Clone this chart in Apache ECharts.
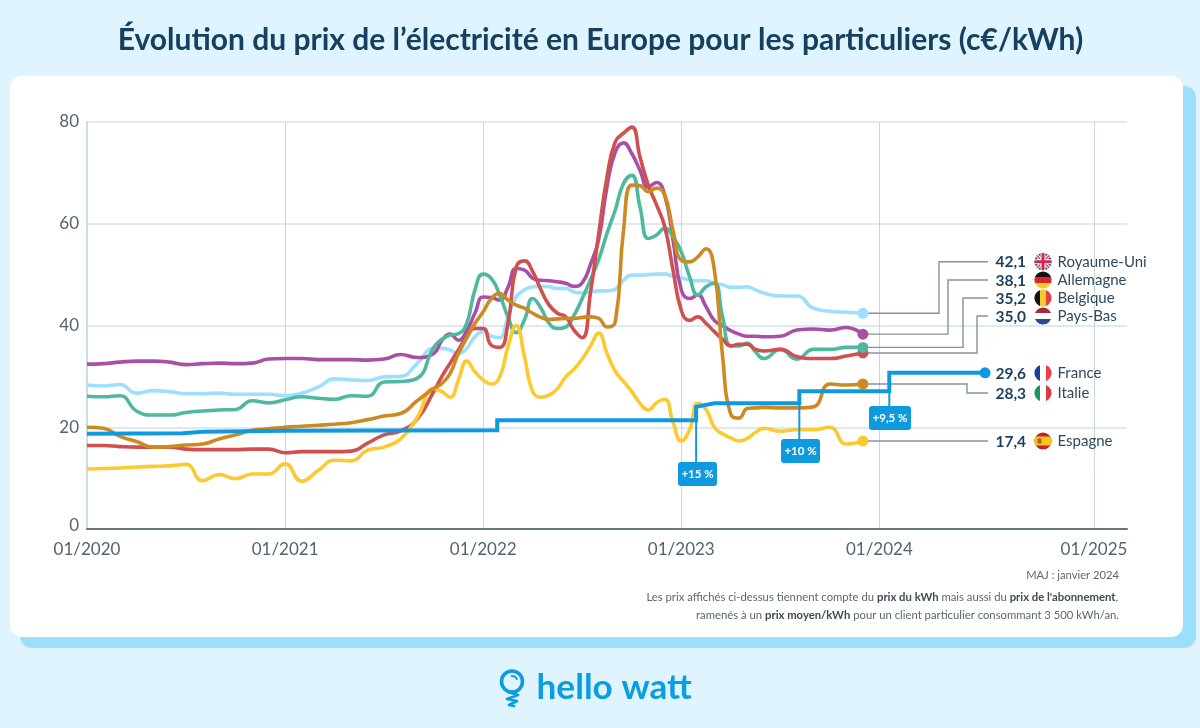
<!DOCTYPE html>
<html><head><meta charset="utf-8">
<style>html,body{margin:0;padding:0;background:#dff4ff}#c{width:1200px;height:728px}</style>
<script src="https://cdn.jsdelivr.net/npm/echarts@6/dist/echarts.min.js"></script>
</head><body><div id="c"></div>
<script>
const months=[0,1,2,3,4,5,6,7,8,9,10,11,12,13,14,15,16,17,18,19,20,
21,21.5,22,22.5,23,23.5,24,24.5,25,25.5,26,26.5,27,27.5,28,28.5,29,29.5,30,30.5,31,31.5,32,32.5,33,33.5,34,34.5,35,35.5,36,36.5,37,37.5,38,38.5,39,39.5,40,40.5,41,
42,43,44,45,46,47];
const royaumeUni=[28.3,28.1,28.4,26.7,27.2,27,26.6,26.6,26.7,26.5,26.5,26.5,26.2,26.7,27.9,29.5,29.3,29.2,29.9,30,32.5,
35.5,35.5,35.2,34.5,35.5,37.8,38.8,37.9,37.6,41.7,45.6,47,47.6,47.7,47.6,47.3,47.3,46.6,46.4,46.6,46.8,46.8,47.1,48.9,49.9,49.9,50,50.1,50.1,49.7,49.4,49,48.8,48.8,48.3,48,47.5,47.5,47.6,47,46.4,
45.8,45.8,43.4,42.8,42.6,42.4];
const allemagne=[32.4,32.5,32.8,33,33,32.8,32.3,32.5,32.6,32.5,32.6,33.4,33.5,33.5,33.3,33.3,33.3,33.2,33.4,34.3,33.7,
34.5,37.1,38.3,37.1,39,42.4,45.6,45.5,45,47.5,51.2,50.9,49.3,48.9,48.8,48.6,48.3,47.7,48.4,52,57,67.3,74.1,75.9,73.8,70.5,67.2,68.1,65.6,56.8,47,45.3,46,43.7,41,40,39,38.3,37.9,37.9,37.8,
37.9,39.1,39.3,39.1,39.6,38.3];
const belgique=[26.1,26,26.2,23.2,22.4,22.4,22.9,23.2,23.4,23.5,25.2,24.8,25.4,26,25.7,25.5,26.2,26.1,28.9,29,29.6,
35.7,37.3,38.1,38.4,40.4,47,50.1,49.2,46,41.7,38.6,41.1,45.3,43.4,40.4,39.4,39.7,42,45.3,49,53,58.1,62.7,67.9,69.5,63.3,57.1,57.8,59.1,57.4,54.5,49.6,46,47.6,48.3,41.7,36,36,36.5,34.8,33.5,
35.3,33.4,35.3,35.3,35.7,35.7];
const paysBas=[16.4,16.4,16.2,16.1,16.1,16.1,15.7,15.6,15.6,15.6,15.7,15.7,15,15.2,15.2,15.2,15.3,16.9,18.5,19.3,21.6,
27,30,32.6,35.2,37.8,39.4,39.4,36.1,35.7,40.4,51.5,52.7,50.6,47,44,42.4,41.7,39.1,37.6,46.5,58.1,69.2,76.1,77.8,79,73.1,67.6,63.7,59.4,50.9,43,41,41.7,40.4,38.8,37.3,36,36.3,36.3,35.3,35,
35.3,33.9,33.5,33.5,34,34.6];
const italie=[20,19.8,18.2,17.2,16.1,16.2,16.5,16.7,17.7,18.5,19.4,19.7,20,20.2,20.4,20.6,20.9,21.5,22.2,22.7,25.2,
27.6,28.6,30.6,34.5,37.5,40.4,42.7,45.3,46.3,45,44,43.4,42.4,41.6,41.2,41.3,41.4,41.4,41.6,41.7,41.4,39.7,40.7,58.7,67.6,67.5,66.3,67,65.6,58.7,52.8,52.5,53.5,55.1,51,34,22.5,21.8,23.7,23.8,23.9,
23.8,23.8,24,28.5,28.3,28.5];
const espagne=[11.8,11.9,12,12.2,12.3,12.4,12.7,9.5,10.7,9.9,10.8,10.8,12.8,9.4,11.5,13.5,13.4,15.5,16.1,17.7,21.9,
27.6,27,25.9,29.3,33,30.9,29.3,28.5,29.9,35.8,40,33.9,27,25.9,26.3,27.6,29.9,31.4,33.4,36,38.5,34.5,31,29,27,24.7,23.4,24.8,25.5,21,17.3,19.5,24.7,23.5,20,18.7,17.9,17.3,17.8,19,19.8,
19.2,19.5,19.5,20,16.7,17.3];
const franceMonths=[0,5.8,7,12,24.85,24.85,36.9,36.9,38,43.15,43.15,48.6,48.6,54.4];
const franceValues=[18.7,18.8,19.1,19.3,19.4,21.4,21.4,24,24.7,24.7,27.1,27.1,30.7,30.7];
const tickMonths=[0,12,24,36,48,61];
const tickLabels=['01/2020','01/2021','01/2022','01/2023','01/2024','01/2025'];
const countries=['Royaume-Uni','Allemagne','Belgique','Pays-Bas','France','Italie','Espagne'];
const shownValues=['42,1','38,1','35,2','35,0','29,6','28,3','17,4'];

const F='Lato';
const colors={uk:'#9ddffc',de:'#a950a5',be:'#4fb9a0',nl:'#d04f4f',fr:'#0f9ae0',it:'#cd8a22',es:'#fcc92f'};
const lines=[[royaumeUni,colors.uk],[allemagne,colors.de],[belgique,colors.be],[paysBas,colors.nl],[espagne,colors.es],[italie,colors.it]];
const series=lines.map(([v,c],i)=>({type:'line',data:v.map((y,k)=>[months[k],y]),smooth:0.5,symbol:'none',z:3+i,
  lineStyle:{color:c,width:3.6},itemStyle:{color:c}}));
series.push({type:'line',data:franceValues.map((y,k)=>[franceMonths[k],y]),symbol:'none',z:12,
  lineStyle:{color:colors.fr,width:4,join:'miter'},itemStyle:{color:colors.fr}});
[3,0,1,2,4,5].forEach(i=>{const [v,c]=lines[i];series.push({type:'scatter',data:[[months[months.length-1],v[v.length-1]]],symbolSize:11,z:i===3?10:11,itemStyle:{color:c,opacity:1}});});
series.push({type:'scatter',data:[[franceMonths[franceMonths.length-1],franceValues[franceValues.length-1]]],symbolSize:11,z:13,itemStyle:{color:colors.fr,opacity:1}});

const chart=echarts.init(document.getElementById('c'),null,{renderer:'canvas'});
chart.setOption({
  animation:false,backgroundColor:'#dff4ff',textStyle:{fontFamily:F},
  grid:{left:87,right:73,top:122,bottom:199,containLabel:false},
  xAxis:{type:'value',min:0,max:63,
    axisLine:{show:true,onZero:false,lineStyle:{color:'#64767f',width:2}},
    axisTick:{show:false,customValues:tickMonths},
    axisLabel:{customValues:tickMonths,fontFamily:F,fontSize:17,color:'#55636d',margin:12,hideOverlap:false,showMinLabel:true,showMaxLabel:true,
      formatter:v=>tickLabels[tickMonths.indexOf(v)]||''},
    splitLine:{show:true,lineStyle:{color:'#c9d6e2',width:1}}},
  yAxis:{type:'value',min:0,max:80,interval:20,
    axisLine:{show:true,lineStyle:{color:'#c8dcea',width:2}},axisTick:{show:false},
    axisLabel:{fontFamily:F,fontSize:17,color:'#55636d',margin:8,
      formatter:v=>v===0?'{z|0}':String(v),rich:{z:{fontFamily:F,fontSize:17,color:'#55636d',padding:[0,0,7,0]}}},
    splitLine:{show:true,lineStyle:{color:'#e0e8f0',width:2}}},
  series
});

const px=(m,v)=>chart.convertToPixel({xAxisIndex:0,yAxisIndex:0},[m,v]);
const lastM=months[months.length-1];
const g=[];
g.push({type:'rect',z:-20,shape:{x:20,y:86,width:1176,height:562,r:12},style:{fill:'#9cdffc'}});
g.push({type:'rect',z:-19,shape:{x:10,y:76,width:1173,height:561,r:12},style:{fill:'#ffffff'}});
g.push({type:'text',z:20,style:{x:600.5,y:40.5,text:'Évolution du prix de l’électricité en Europe pour les particuliers (c€/kWh)',
  font:'bold 30px Lato',fill:'#15405f',align:'center',verticalAlign:'middle'}});
const rowY=[261.7,280,298,316,373,393,441];
const elbows={0:939,1:948,2:963,3:977,5:967};
const ends=[[royaumeUni,0],[allemagne,1],[belgique,2],[paysBas,3],[italie,5],[espagne,6]];
ends.forEach(([v,row])=>{
  const p=px(lastM,v[v.length-1]);
  const e=elbows[row];
  const pts=e?[p,[e,p[1]],[e,rowY[row]],[988,rowY[row]]]:[p,[988,p[1]]];
  g.push({type:'polyline',z:1,shape:{points:pts},style:{stroke:'#84929c',lineWidth:1.4,fill:null}});
});
const notes=[{m:36.9,v:21.4,t:'+15 %',x:678,y:462,w:39},{m:43.15,v:24.7,t:'+10 %',x:781,y:439,w:39},{m:48.6,v:27.1,t:'+9,5 %',x:869,y:406,w:42}];
notes.forEach(n=>{
  const p=px(n.m,n.v);
  g.push({type:'line',z:9,shape:{x1:p[0],y1:p[1],x2:p[0],y2:n.y},style:{stroke:colors.fr,lineWidth:2}});
  g.push({type:'rect',z:14,shape:{x:n.x,y:n.y,width:n.w,height:24,r:3},style:{fill:colors.fr}});
  g.push({type:'text',z:15,style:{x:n.x+n.w/2,y:n.y+12.5,text:n.t,font:'bold 11.5px Lato',fill:'#ffffff',align:'center',verticalAlign:'middle'}});
});
const stripesH=(a,b,c)=>`<rect width="18" height="6" fill="${a}"/><rect y="6" width="18" height="6" fill="${b}"/><rect y="12" width="18" height="6" fill="${c}"/>`;
const stripesV=(a,b,c)=>`<rect width="6" height="18" fill="${a}"/><rect x="6" width="6" height="18" fill="${b}"/><rect x="12" width="6" height="18" fill="${c}"/>`;
const flagArt=[
 `<rect width="18" height="18" fill="#2b4a9b"/><path d="M0 0L18 18M18 0L0 18" stroke="#fff" stroke-width="3.4"/><path d="M0 0L18 18M18 0L0 18" stroke="#d5254a" stroke-width="1.2"/><path d="M9 0V18M0 9H18" stroke="#fff" stroke-width="5"/><path d="M9 0V18M0 9H18" stroke="#d5254a" stroke-width="3"/>`,
 stripesH('#111111','#d8262c','#f7ca2e'),
 stripesV('#111111','#f7ca2e','#ee3e44'),
 stripesH('#a8283c','#ffffff','#2c4a8f'),
 stripesV('#1d3f94','#ffffff','#ee3e44'),
 stripesV('#159a56','#ffffff','#d73a45'),
 `<rect width="18" height="18" fill="#c8202c"/><rect y="4.5" width="18" height="9" fill="#f8c521"/><rect x="3.5" y="6.5" width="4" height="5" rx="1" fill="#a8622a"/>`
];
const flagUri=s=>'data:image/svg+xml;charset=utf-8,'+encodeURIComponent(`<svg xmlns="http://www.w3.org/2000/svg" width="18" height="18" viewBox="0 0 18 18"><defs><clipPath id="c"><circle cx="9" cy="9" r="8.6"/></clipPath></defs><g clip-path="url(#c)">${s}</g></svg>`);
countries.forEach((name,i)=>{
  const y=rowY[i];
  g.push({type:'text',z:20,style:{x:1026,y:y+0.5,text:shownValues[i],font:'bold 15.5px Lato',fill:'#1c3f5c',align:'right',verticalAlign:'middle'}});
  g.push({type:'image',z:20,style:{image:flagUri(flagArt[i]),x:1034,y:y-9,width:18,height:18}});
  g.push({type:'text',z:20,style:{x:1057.5,y:y+0.5,text:name,font:'15px Lato',fill:'#2f4a60',align:'left',verticalAlign:'middle'}});
});
const noteFill='#5c6770';
g.push({type:'text',z:20,style:{x:1119,y:575,text:'MAJ : janvier 2024',font:'11.2px Lato',fill:noteFill,align:'right',verticalAlign:'middle'}});
const rich={b:{fontFamily:F,fontWeight:'bold',fontSize:11.3,fill:'#3f4a54'},n:{fontFamily:F,fontSize:11.3,fill:noteFill}};
g.push({type:'text',z:20,style:{x:1118,y:597,align:'right',verticalAlign:'middle',rich,
  text:"{n|Les prix affichés ci-dessus tiennent compte du }{b|prix du kWh}{n| mais aussi du }{b|prix de l'abonnement}{n|,}"}});
g.push({type:'text',z:20,style:{x:1119,y:615,align:'right',verticalAlign:'middle',rich,
  text:"{n|ramenés à un }{b|prix moyen/kWh}{n| pour un client particulier consommant 3 500 kWh/an.}"}});
g.push({type:'circle',z:20,shape:{cx:512,cy:681.5,r:10.5},style:{fill:null,stroke:'#0b9de0',lineWidth:3.6}});
g.push({type:'polyline',z:20,shape:{points:[[508,692],[518,695],[507,699],[517,701],[509,705],[514,706]]},style:{stroke:'#0b9de0',lineWidth:2.8,fill:null,lineJoin:'round',lineCap:'round'}});
g.push({type:'arc',z:20,shape:{cx:512,cy:681.5,r:5.5,startAngle:-1.6,endAngle:-0.5},style:{stroke:'#0b9de0',lineWidth:2,fill:null,lineCap:'round'}});
g.push({type:'text',z:20,style:{x:536.5,y:688,text:'hello watt',font:'bold 35.2px Lato',fill:'#0b9de0',align:'left',verticalAlign:'middle'}});
chart.setOption({graphic:{elements:g}});
</script></body></html>
